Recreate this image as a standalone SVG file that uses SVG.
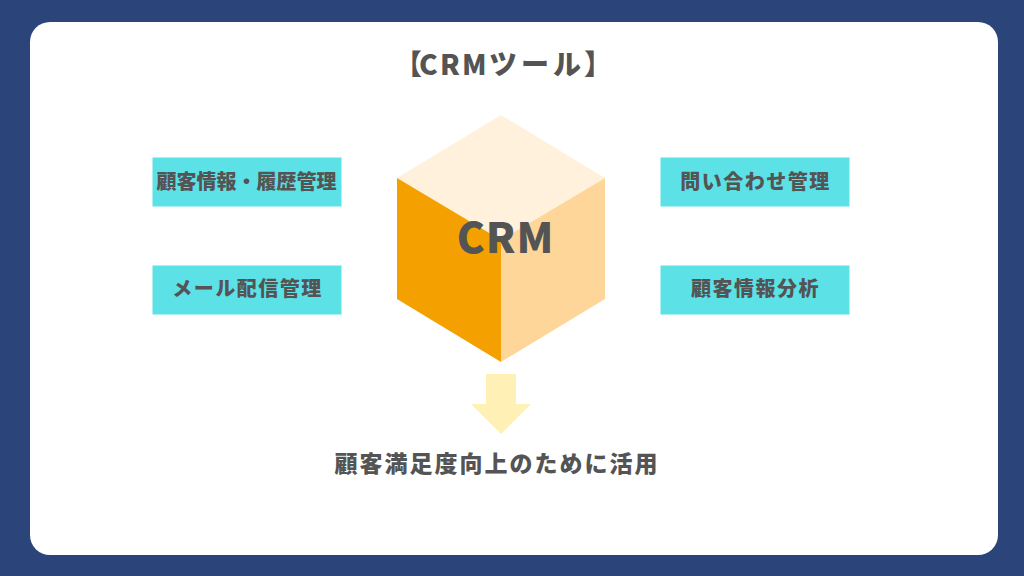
<svg xmlns="http://www.w3.org/2000/svg" width="1024" height="576" viewBox="0 0 1024 576">
<style>
text{font-family:"Noto Sans CJK JP","Noto Sans",sans-serif;font-weight:900;fill:#545454;text-anchor:middle}
.b{fill:#5ce1e6}
.l{font-size:20px;letter-spacing:1.5px}
</style>
<rect width="1024" height="576" fill="#2b457b"/>
<rect x="30" y="22" width="968" height="533" rx="20" fill="#fff"/>
<text id="title" y="75" font-size="28" style="text-anchor:start" x="394 419 440 462 489 521 553 584">【CRMツール】</text>
<g id="cube">
<polygon points="501,115 605,178 501,240 397,178" fill="#fff1dc"/>
<polygon points="397,178 501,240 501,362 397,299" fill="#f4a000"/>
<polygon points="605,178 501,240 501,362 605,299" fill="#ffd699"/>
<text x="505.500" y="253" font-size="42" letter-spacing="1">CRM</text>
</g>
<g id="n1"><rect class="b" x="152.500" y="157.500" width="189" height="49"/><text x="246.500" y="189" font-size="20">顧客情報・履歴管理</text></g>
<g id="n2"><rect class="b" x="152.500" y="265.500" width="189" height="49"/><text class="l" x="247.500" y="296">メール配信管理</text></g>
<g id="n3"><rect class="b" x="660.500" y="157.500" width="189" height="49"/><text class="l" x="755.500" y="189">問い合わせ管理</text></g>
<g id="n4"><rect class="b" x="660.500" y="265.500" width="189" height="49"/><text class="l" x="755.500" y="296">顧客情報分析</text></g>
<g id="connectors"><polygon points="486,374 516,374 516,404 531,404 501,434 471,404 486,404" fill="#fff0b5"/></g>
<text id="result" x="497" y="472" font-size="23" letter-spacing="2">顧客満足度向上のために活用</text>
</svg>
